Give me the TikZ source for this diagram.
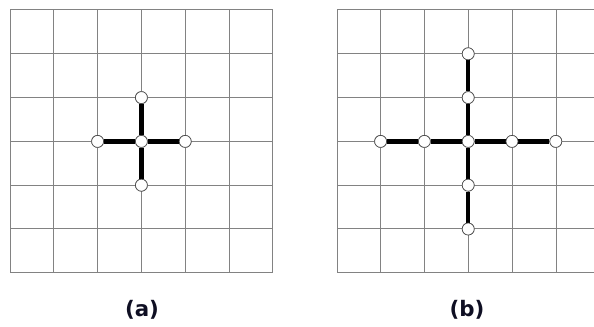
\documentclass[tikz,border=0pt]{standalone}
\usepackage{fontspec}
\setmainfont{DejaVu Sans}
\definecolor{gridgray}{RGB}{130,130,130}
\definecolor{lbltext}{RGB}{15,15,35}
\begin{document}
\begin{tikzpicture}[x=0.75pt,y=-0.75pt,
  gridline/.style={draw=gridgray,line width=0.75pt},
  pt/.style={circle,draw=black!70,fill=white,line width=0.5pt,minimum size=9pt,inner sep=0pt},
  arm/.style={line width=3.2pt,black},
  lbl/.style={font=\bfseries\fontsize{16}{18}\selectfont,text=lbltext}]
\useasboundingbox (0,0) rectangle (594,327);
\fill[white] (0,0) rectangle (594,327);
\begin{scope}
\clip (0,0) rectangle (594,327);
% grid (a)
\foreach \i in {0,...,6}{
  \draw[gridline] ({10+43.8*\i},10) -- ({10+43.8*\i},273);
  \draw[gridline] (10,{10+43.8*\i}) -- (273,{10+43.8*\i});
}
% grid (b)
\foreach \i in {0,...,6}{
  \draw[gridline] ({337+43.8*\i},10) -- ({337+43.8*\i},273);
  \draw[gridline] (337,{10+43.8*\i}) -- (600,{10+43.8*\i});
}
\end{scope}
% (a)
\node[pt] (ac) at (141.4,141.4) {};
\node[pt] (an) at (141.4,97.6) {};
\node[pt] (as) at (141.4,185.2) {};
\node[pt] (aw) at (97.6,141.4) {};
\node[pt] (ae) at (185.2,141.4) {};
\draw[arm] (an) -- (ac) -- (as);
\draw[arm] (aw) -- (ac) -- (ae);
\foreach \n in {ac,an,as,aw,ae}{\node[pt] at (\n) {};}
% (b)
\node[pt] (bc) at (468.2,141.4) {};
\node[pt] (bn1) at (468.2,97.6) {};
\node[pt] (bn2) at (468.2,53.8) {};
\node[pt] (bs1) at (468.2,185.2) {};
\node[pt] (bs2) at (468.2,229) {};
\node[pt] (bw1) at (424.4,141.4) {};
\node[pt] (bw2) at (380.6,141.4) {};
\node[pt] (be1) at (512,141.4) {};
\node[pt] (be2) at (555.8,141.4) {};
\draw[arm] (bn2) -- (bn1) -- (bc) -- (bs1) -- (bs2);
\draw[arm] (bw2) -- (bw1) -- (bc) -- (be1) -- (be2);
\foreach \n in {bc,bn1,bn2,bs1,bs2,bw1,bw2,be1,be2}{\node[pt] at (\n) {};}
% labels
\node[lbl] (la) at (142,310) {(a)};
\node[lbl] (lb) at (467,310) {(b)};
\end{tikzpicture}
\end{document}
